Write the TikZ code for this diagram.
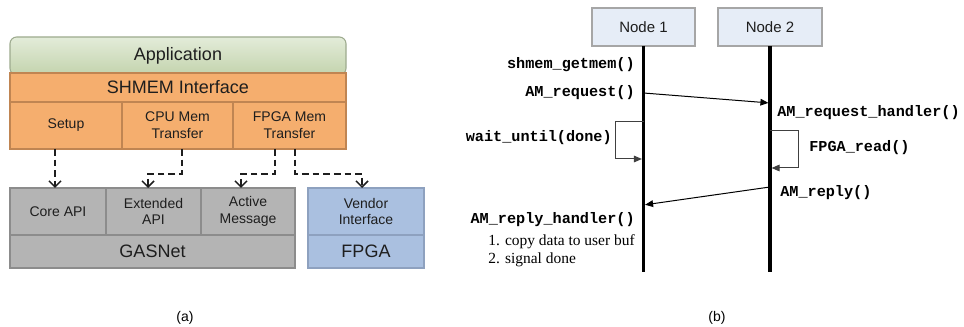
\documentclass[tikz,border=0pt]{standalone}
\usepackage{fontspec}
\setmainfont{Liberation Serif}
\setsansfont{Liberation Sans}
\setmonofont{Liberation Mono}
\usetikzlibrary{arrows.meta}

\definecolor{appTop}{HTML}{E3ECD9}
\definecolor{appBot}{HTML}{C3D3AD}
\definecolor{appLine}{HTML}{9DAA8E}
\definecolor{shmFill}{HTML}{F5AE6E}
\definecolor{shmLine}{HTML}{C08552}
\definecolor{gasFill}{HTML}{B4B4B4}
\definecolor{gasLine}{HTML}{8C8C8C}
\definecolor{fpgFill}{HTML}{AAC0E0}
\definecolor{fpgLine}{HTML}{8EA1BF}
\definecolor{nodFill}{HTML}{E6EDF7}
\definecolor{nodLine}{HTML}{A6A6A6}
\definecolor{ink}{HTML}{1E1E1E}

\tikzset{
  sz/.style 2 args={minimum width=#1*0.75pt, minimum height=#2*0.75pt},
  cell/.style={inner sep=0pt, outer sep=0pt, line width=0.8pt, align=center,
    text=ink, font=\sffamily\fontsize{10.5}{12.6}\selectfont},
  bigcell/.style={cell, font=\sffamily\fontsize{13.5}{16}\selectfont},
  shmcell/.style={draw=shmLine, fill=shmFill},
  gascell/.style={draw=gasLine, fill=gasFill},
  fpgcell/.style={draw=fpgLine, fill=fpgFill},
  dasharrow/.style={line width=1.1pt, dash pattern=on 5pt off 3pt, ink,
    -{Straight Barb[length=4.5pt,width=9pt,line width=1.1pt]}},
  lifebox/.style={cell, draw=nodLine, fill=nodFill, line width=0.8pt,
    font=\sffamily\fontsize{11.25}{13}\selectfont},
  life/.style={line width=2.3pt, black},
  msg/.style={line width=0.75pt, black, -{Triangle[length=6pt,width=5pt]}},
  selfloop/.style={line width=0.75pt, black!75, -{Triangle[length=6pt,width=5pt]}},
  call/.style={inner sep=0pt, font=\ttfamily\bfseries\fontsize{11.4}{13}\selectfont},
  note/.style={inner sep=0pt, anchor=west, font=\rmfamily\fontsize{11.6}{13}\selectfont},
  caption/.style={inner sep=0pt, font=\sffamily\fontsize{10.5}{12}\selectfont}
}

\begin{document}
\begin{tikzpicture}[x=0.75pt,y=-0.75pt]
\useasboundingbox (0,0) rectangle (964,327);

% ---------- (a) software stack ----------
\node[bigcell, draw=appLine, top color=appTop, bottom color=appBot,
      rounded corners=5pt, sz={336}{38}] (app) at (178,56) {Application};
\node[bigcell, shmcell, sz={336}{29}] (shm) at (178,87.5) {SHMEM Interface};
\node[cell, shmcell, sz={112}{47}] (setup) at (66,125.5) {Setup};
\node[cell, shmcell, sz={111}{47}] (cpu) at (177.5,125.5) {CPU Mem\\Transfer};
\node[cell, shmcell, sz={113}{47}] (fpm) at (289.5,125.5) {FPGA Mem\\Transfer};

\node[cell, gascell, sz={96}{47}] (core) at (58,211.5) {Core API};
\node[cell, gascell, sz={95}{47}] (ext) at (153.5,211.5) {Extended\\API};
\node[cell, gascell, sz={94}{47}] (am) at (248,211.5) {Active\\Message};
\node[bigcell, gascell, sz={285}{33}] (gas) at (152.5,251.5) {GASNet};

\node[cell, fpgcell, sz={116}{47}] (vend) at (366,211.5) {Vendor\\Interface};
\node[bigcell, fpgcell, sz={116}{33}] (fpga) at (366,251.5) {FPGA};

\draw[dasharrow] ([xshift=-8.25pt]setup.south) -- ([xshift=-2.25pt]core.north);
\draw[dasharrow] ([xshift=3.4pt]cpu.south) -- ++(0,25) -| ([xshift=-4.1pt]ext.north);
\draw[dasharrow] ([xshift=-10.9pt]fpm.south) -- ++(0,25) -| ([xshift=-5.25pt]am.north);
\draw[dasharrow] ([xshift=4.1pt]fpm.south) -- ++(0,25) -| ([xshift=-3pt]vend.north);

\node[caption] (capa) at (185,318) {(a)};

% ---------- (b) message sequence ----------
\node[lifebox, sz={103}{38}] (n1) at (643.5,27) {Node 1};
\node[lifebox, sz={104}{38}] (n2) at (770,27) {Node 2};
\path (n1.south) ++(0,226) coordinate (e1);
\path (n2.south) ++(0,226) coordinate (e2);
\draw[life] (n1) -- (e1);
\draw[life] (n2) -- (e2);

% request message
\path (n1.south) ++(0,47) coordinate (rq1);
\path (n2.south) ++(0,57) coordinate (rq2);
\draw[msg, shorten <=1.2pt, shorten >=1.2pt] (rq1) -- (rq2);

% wait loop on node 1
\path (n1.south) ++(0,76) coordinate (w1) ++(0,37) coordinate (w2);
\draw[selfloop, shorten >=1.2pt] (w1) -- ++(-28,0) |- (w2);

% FPGA read loop on node 2
\path (n2.south) ++(0,85) coordinate (f1) ++(0,37) coordinate (f2);
\draw[selfloop, shorten >=1.2pt] (f1) -- ++(28,0) |- (f2);

% reply message
\path (n2.south) ++(0,141) coordinate (rp2);
\path (n1.south) ++(0,159) coordinate (rp1);
\draw[msg, shorten <=1.2pt, shorten >=1.2pt] (rp2) -- (rp1);

\node[call, anchor=east] (lget) at (635,65) {shmem\_getmem()};
\node[call, anchor=east] (lreq) at (635,93) {AM\_request()};
\node[call, anchor=east] (lwait) at (612,138) {wait\_until(done)};
\node[call, anchor=west] (lrqh) at (777,113) {AM\_request\_handler()};
\node[call, anchor=west] (lfrd) at (809,148) {FPGA\_read()};
\node[call, anchor=west] (lrep) at (780,193) {AM\_reply()};
\node[call, anchor=east] (lreh) at (635,220) {AM\_reply\_handler()};
\node[note] (s1) at (488,242) {1. copy data to user buf};
\node[note] (s2) at (488,260) {2. signal done};

\node[caption] (capb) at (717,318) {(b)};
\end{tikzpicture}
\end{document}
